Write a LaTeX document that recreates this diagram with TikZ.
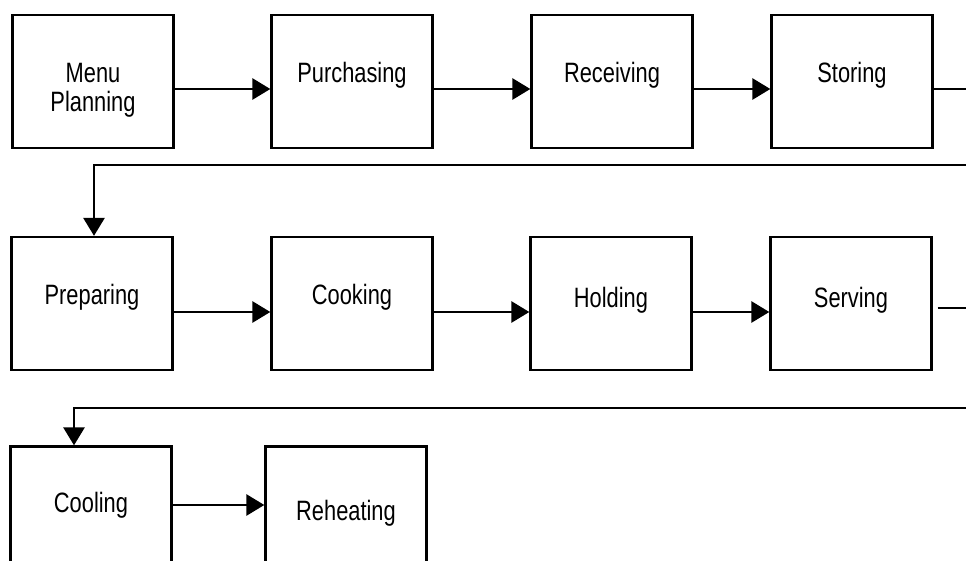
\documentclass[tikz,border=0pt]{standalone}
\usepackage{fontspec}
\setmainfont{Liberation Sans}[FakeStretch=0.78]
\usetikzlibrary{arrows.meta,calc}
\begin{document}
\begin{tikzpicture}[x=1pt,y=-1pt,
  box/.style={draw=black, line width=2.3pt, minimum width=161pt, minimum height=133pt, inner sep=0pt},
  lbl/.style={anchor=base, inner sep=0pt, font=\fontsize{28}{29}\selectfont},
  flow/.style={draw=black, line width=2.8pt, -{Triangle[length=18pt,width=21pt]}},
  link/.style={draw=black, line width=2.8pt}]
\useasboundingbox (0,0) rectangle (966,561);
\clip (0,0) rectangle (966,561);

% first row
\node[box] (menu)  at (93,81.5)  {};
\node[box] (purch) at (352,81.5) {};
\node[box] (recv)  at (612,81.5) {};
\node[box] (stor)  at (852,81.5) {};
\node[lbl] (menuA) at (93,83)  {Menu};
\node[lbl] (menuB) at (93,112) {Planning};
\node[lbl] (purchT) at (352,83) {Purchasing};
\node[lbl] (recvT)  at (612,83) {Receiving};
\node[lbl] (storT)  at (852,83) {Storing};

% second row
\node[box] (prep) at (92,303.5)  {};
\node[box] (cook) at (352,303.5) {};
\node[box] (hold) at (611,303.5) {};
\node[box] (serv) at (851,303.5) {};
\node[lbl] (prepT) at (92,305)  {Preparing};
\node[lbl] (cookT) at (352,305) {Cooking};
\node[lbl] (holdT) at (611,307) {Holding};
\node[lbl] (servT) at (851,307) {Serving};

% third row
\node[box] (cool)   at (91,513)  {};
\node[box] (reheat) at (346,513) {};
\node[lbl] (coolT)   at (91,512)  {Cooling};
\node[lbl] (reheatT) at (346,520) {Reheating};

% ends of the lines running off the right edge
\coordinate (e1) at (966,89);
\coordinate (r1) at (966,165);
\coordinate (e2) at (966,308);
\coordinate (r2) at (966,408);

% connectors, first row
\draw[flow] ([yshift=-7.5pt]menu.east)  -- ([yshift=-7.5pt]purch.west);
\draw[flow] ([yshift=-7.5pt]purch.east) -- ([yshift=-7.5pt]recv.west);
\draw[flow] ([yshift=-7.5pt]recv.east)  -- ([yshift=-7.5pt]stor.west);
\draw[link] ([yshift=-7.5pt]stor.east) -- (e1);
\draw[flow] (r1) -| ([xshift=2pt]prep.north);

% connectors, second row
\draw[flow] ([yshift=-8.5pt]prep.east) -- ([yshift=-8.5pt]cook.west);
\draw[flow] ([yshift=-8.5pt]cook.east) -- ([yshift=-8.5pt]hold.west);
\draw[flow] ([yshift=-8.5pt]hold.east) -- ([yshift=-8.5pt]serv.west);
\draw[link] ([xshift=5pt,yshift=-4.5pt]serv.east) -- (e2);
\draw[flow] (r2) -| ([xshift=-17pt]cool.north);

% connector, third row
\draw[flow] ([yshift=8pt]cool.east) -- ([yshift=8pt]reheat.west);
\end{tikzpicture}
\end{document}
